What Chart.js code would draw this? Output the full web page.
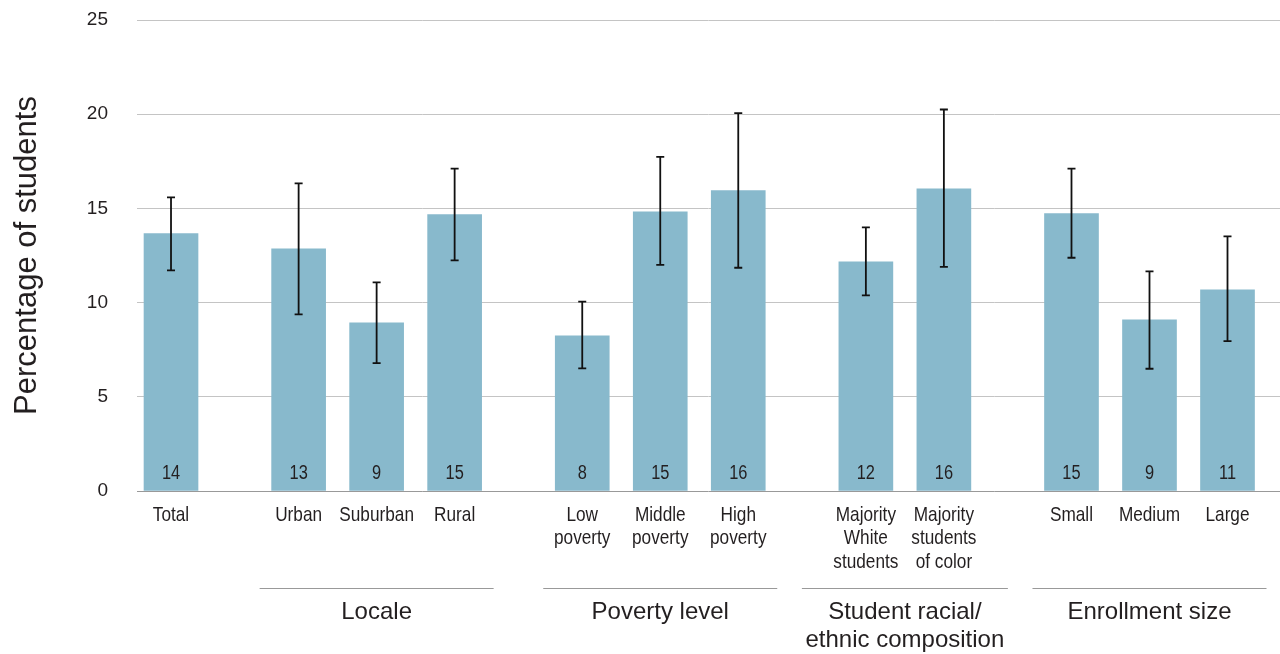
<!DOCTYPE html>
<html>
<head>
<meta charset="utf-8">
<title>Percentage of students</title>
<script src="https://cdn.jsdelivr.net/npm/chart.js@4/dist/chart.umd.min.js"></script>
<style>
  html, body { margin: 0; padding: 0; background: #fff; }
  #wrap { width: 1280px; height: 654px; }
</style>
</head>
<body>
<div id="wrap"><canvas id="chart" width="1280" height="654"></canvas></div>
<script>
/* ── DATA ─────────────────────────────────────────────────────── */
const categories = [
  ['Total'],
  ['Urban'], ['Suburban'], ['Rural'],
  ['Low', 'poverty'], ['Middle', 'poverty'], ['High', 'poverty'],
  ['Majority', 'White', 'students'], ['Majority', 'students', 'of color'],
  ['Small'], ['Medium'], ['Large']
];
const groupNames = ['', 'Locale', 'Poverty level', 'Student racial/\nethnic composition', 'Enrollment size'];
const groupOf    = [0, 1, 1, 1, 2, 2, 2, 3, 3, 4, 4, 4];
const percent    = [13.66, 12.86, 8.93, 14.67, 8.24, 14.82, 15.94, 12.17, 16.04, 14.72, 9.09, 10.68];
const lowerCI    = [11.71, 9.37, 6.79, 12.24, 6.51, 12.00, 11.85, 10.38, 11.90, 12.38, 6.49, 7.96];
const upperCI    = [15.58, 16.33, 11.07, 17.11, 10.05, 17.73, 20.06, 13.99, 20.25, 17.11, 11.66, 13.51];
const yTicks     = [0, 5, 10, 15, 20, 25];

/* ── LAYOUT ───────────────────────────────────────────────────── */
const GROUP_GAP = 1.636;   // slot distance between groups (1 = bar to bar)
const BAR_W = 54;
const SQUEEZE = 0.82;      // fake a condensed face from the regular one
const SANS = "'Liberation Sans', Arial, Helvetica, sans-serif";
const INK = '#231f20';

// bar slot positions from the grouping
let run = 0;
const positions = groupOf.map((g, i) => {
  if (i > 0) run += (g !== groupOf[i - 1]) ? GROUP_GAP : 1;
  return run;
});

function narrowText(ctx, text, x, y) {
  ctx.save();
  ctx.translate(x, y);
  ctx.scale(SQUEEZE, 1);
  ctx.fillText(text, 0, 0);
  ctx.restore();
}

/* ── ERROR BARS, LABELS, GROUPS ───────────────────────────────── */
const extras = {
  id: 'extras',
  afterDatasetsDraw(chart) {
    const { ctx, scales: { x, y } } = chart;
    ctx.save();
    ctx.strokeStyle = '#111';
    ctx.lineWidth = 1.8;
    positions.forEach((p, i) => {
      const cx = x.getPixelForValue(p);
      const lo = y.getPixelForValue(lowerCI[i]);
      const hi = y.getPixelForValue(upperCI[i]);
      ctx.beginPath();
      ctx.moveTo(cx, lo); ctx.lineTo(cx, hi);
      ctx.moveTo(cx - 4, lo); ctx.lineTo(cx + 4, lo);
      ctx.moveTo(cx - 4, hi); ctx.lineTo(cx + 4, hi);
      ctx.stroke();
    });

    // rounded value near the bottom of each bar
    ctx.fillStyle = INK;
    ctx.font = `20px ${SANS}`;
    ctx.textAlign = 'center';
    ctx.textBaseline = 'middle';
    const base = y.getPixelForValue(0);
    positions.forEach((p, i) => {
      narrowText(ctx, String(Math.round(percent[i])), x.getPixelForValue(p), base - 18);
    });
    ctx.restore();
  },
  afterDraw(chart) {
    const { ctx, chartArea, scales: { x } } = chart;
    ctx.save();
    ctx.fillStyle = INK;
    ctx.textAlign = 'center';
    ctx.textBaseline = 'middle';

    // category labels under each bar
    ctx.font = `21px ${SANS}`;
    positions.forEach((p, i) => {
      categories[i].forEach((line, k) => {
        narrowText(ctx, line, x.getPixelForValue(p), chartArea.bottom + 24 + k * 23.5);
      });
    });

    // group rules and names
    groupNames.forEach((name, g) => {
      if (!name) return;
      const idx = groupOf.map((v, i) => v === g ? i : -1).filter(i => i >= 0);
      let left = x.getPixelForValue(positions[idx[0]]) - BAR_W / 2 - 12;
      let right = x.getPixelForValue(positions[idx[idx.length - 1]]) + BAR_W / 2 + 12;
      const mid = (left + right) / 2;
      if (right - left < 206) { left = mid - 103; right = mid + 103; }

      const lineY = chartArea.bottom + 97;
      ctx.strokeStyle = '#999';
      ctx.lineWidth = 1;
      ctx.beginPath();
      ctx.moveTo(left, lineY + 0.5); ctx.lineTo(right, lineY + 0.5);
      ctx.stroke();

      ctx.font = `24px ${SANS}`;
      name.split('\n').forEach((line, k) => {
        ctx.fillText(line, mid, lineY + 24 + k * 28);
      });
    });
    ctx.restore();
  }
};

/* ── CHART ────────────────────────────────────────────────────── */
new Chart(document.getElementById('chart'), {
  type: 'bar',
  data: {
    datasets: [{
      data: positions.map((p, i) => ({ x: p, y: percent[i] })),
      backgroundColor: '#88b9cc',
      borderWidth: 0,
      barThickness: BAR_W
    }]
  },
  options: {
    responsive: false,
    animation: false,
    layout: { padding: { top: 20, left: 0, right: 0, bottom: 0 } },
    plugins: { legend: { display: false }, tooltip: { enabled: false } },
    scales: {
      x: {
        type: 'linear',
        offset: false,
        min: -0.436,
        max: positions[positions.length - 1] + 0.673,
        grid: { display: false, drawTicks: false },
        border: { display: false },
        ticks: { display: false },
        afterFit: scale => { scale.height = 163; }
      },
      y: {
        min: 0,
        max: 25,
        afterBuildTicks: scale => { scale.ticks = yTicks.map(v => ({ value: v })); },
        afterFit: scale => {
          scale.width = 137;
          // the big tick padding is horizontal only; keep it out of the top/bottom gutter
          scale.paddingTop = 12;
          scale.paddingBottom = 12;
        },
        grid: {
          drawTicks: false,
          color: c => c.tick && c.tick.value === 0 ? '#999' : '#c4c4c4',
          lineWidth: 1
        },
        border: { display: false },
        ticks: {
          padding: 29,
          color: INK,
          font: { family: SANS, size: 19 }
        },
        title: {
          display: true,
          text: 'Percentage of students',
          color: INK,
          padding: { top: 9, bottom: 0 },
          font: { family: SANS, size: 31 }
        }
      }
    }
  },
  plugins: [extras]
});
</script>
</body>
</html>
